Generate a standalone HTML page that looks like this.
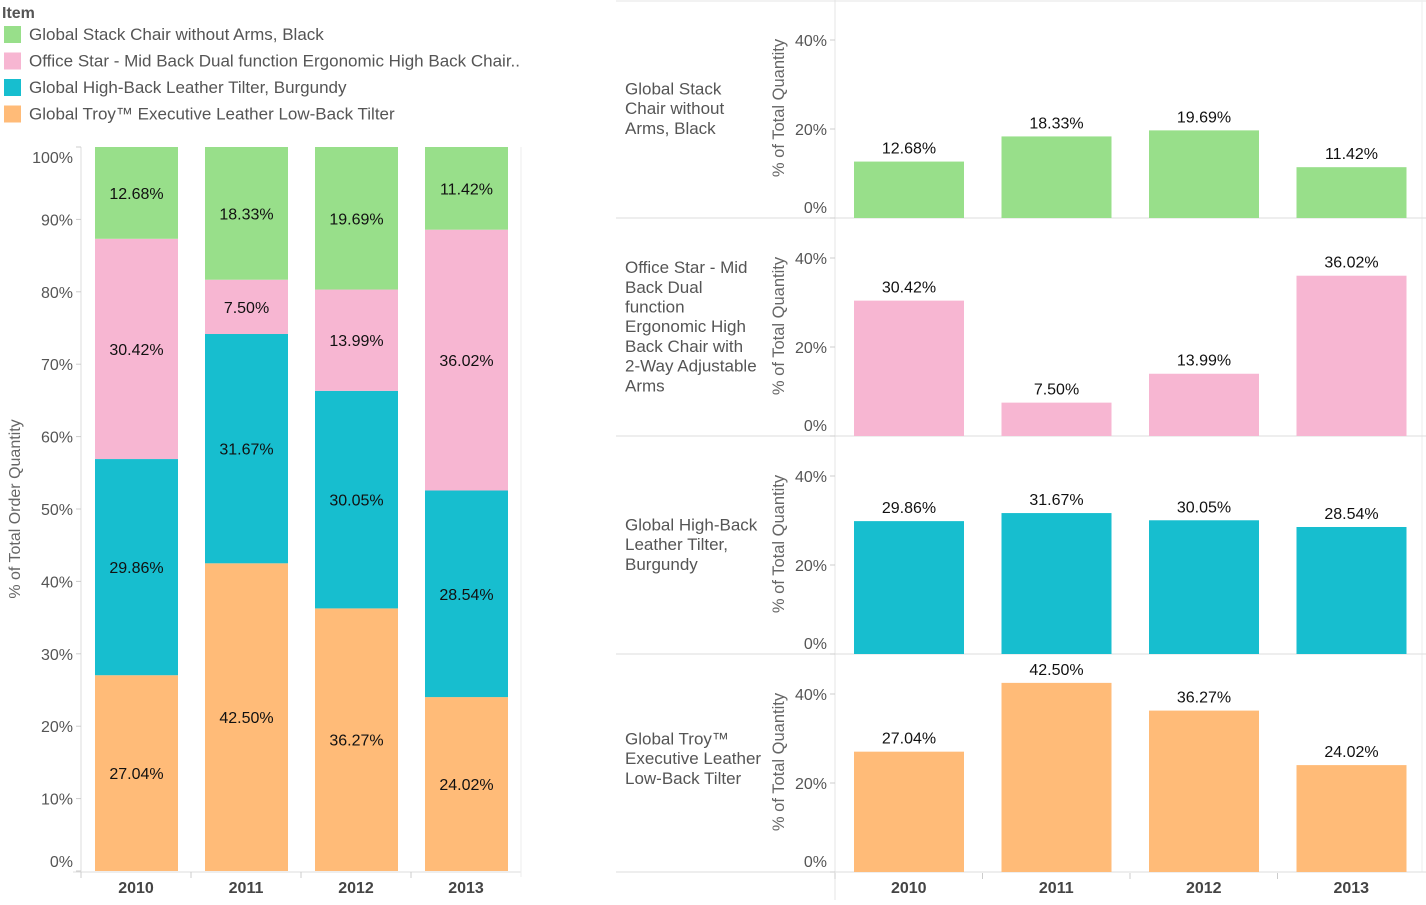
<!DOCTYPE html>
<html><head><meta charset="utf-8">
<style>
body{margin:0;background:#fff;font-family:"Liberation Sans",Arial,sans-serif;}
svg text{font-family:"Liberation Sans",Arial,sans-serif;}
</style></head>
<body>
<svg id="c" width="1426" height="900" xmlns="http://www.w3.org/2000/svg"></svg>
<script>
const years = ["2010","2011","2012","2013"];
const items = ["Global Stack Chair without Arms, Black","Office Star - Mid Back Dual function Ergonomic High Back Chair..","Global High-Back Leather Tilter, Burgundy","Global Troy\u2122 Executive Leather Low-Back Tilter"];
const rowLabels = [["Global Stack","Chair without","Arms, Black"],["Office Star - Mid","Back Dual","function","Ergonomic High","Back Chair with","2-Way Adjustable","Arms"],["Global High-Back","Leather Tilter,","Burgundy"],["Global Troy\u2122","Executive Leather","Low-Back Tilter"]];
const stackChair = [12.68,18.33,19.69,11.42];
const officeStar = [30.42,7.50,13.99,36.02];
const highBack = [29.86,31.67,30.05,28.54];
const troy = [27.04,42.50,36.27,24.02];
const leftTicks = [0,10,20,30,40,50,60,70,80,90,100];
const rightTicks = [0,20,40];
const colors = ["#98df8a","#f7b6d2","#17becf","#ffbb78"];
const series = [stackChair,officeStar,highBack,troy];

const svg=document.getElementById('c');
const NS="http://www.w3.org/2000/svg";
function mk(tag,attrs,name,txt){const e=document.createElementNS(NS,tag);for(const k in attrs)e.setAttribute(k,attrs[k]);


if(txt!==undefined)e.textContent=txt;svg.appendChild(e);return e;}

// legend
mk('text',{x:2,y:18,'font-size':16,'font-weight':'bold',fill:'#555'},'legend-title','Item');
items.forEach((it,i)=>{const y=26+i*26.5;
mk('rect',{x:4,y:y,width:17,height:17,fill:colors[i]},'legend-swatch');
mk('text',{x:29,y:y+14,'font-size':17,fill:'#555'},'legend-entry',it);});

// left chart
const L={x0:81,x1:521,y0:871,y1:147};
const ly=v=>L.y0-(L.y0-L.y1)*v/100;
const lband=(L.x1-L.x0)/years.length;
mk('line',{x1:L.x0,y1:L.y1,x2:L.x0,y2:L.y0+6,stroke:'#ddd'},'y-axis-line');
mk('line',{x1:L.x0-8,y1:L.y0+1,x2:L.x1,y2:L.y0+1,stroke:'#ddd'},'x-axis-line');
mk('line',{x1:L.x1,y1:L.y1,x2:L.x1,y2:L.y0+6,stroke:'#eee'},'right-border');
leftTicks.forEach(t=>{const y=ly(t);
mk('line',{x1:L.x0-5,y1:y,x2:L.x0,y2:y,stroke:'#ccc'},'y-tick');
let ty=y+6; if(t===100)ty=y+16; if(t===0)ty=y-4;
mk('text',{x:73,y:ty,'font-size':16,fill:'#555','text-anchor':'end'},'y-tick-label',t+'%');});
mk('text',{x:20,y:509,'font-size':16,fill:'#666','text-anchor':'middle',transform:'rotate(-90 20 509)'},'y-axis-title','% of Total Order Quantity');
years.forEach((yr,j)=>{const bx=L.x0+j*lband;
mk('line',{x1:bx,y1:L.y0+1,x2:bx,y2:L.y0+7,stroke:'#ccc'},'x-tick');
mk('text',{x:bx+lband/2,y:893,'font-size':16,'font-weight':'bold',fill:'#444','text-anchor':'middle'},'x-tick-label',yr);
let cum=0;
for(let s=series.length-1;s>=0;s--){const v=series[s][j];
const yTop=ly(cum+v),yBot=ly(cum);
mk('rect',{x:bx+14,y:yTop,width:83,height:yBot-yTop,fill:colors[s]},'stack-segment-'+yr);
mk('text',{x:bx+14+41.5,y:(yTop+yBot)/2+6,'font-size':16,fill:'#111','text-anchor':'middle'},'segment-label',v.toFixed(2)+'%');
cum+=v;}});

// right small multiples
const R={x0:835,x1:1426};
const rband=147.5;
const bases=[218,436,654,872];
const scale=4.45;
mk('line',{x1:616,y1:1,x2:1426,y2:1,stroke:'#e4e4e4'},'top-border');
mk('line',{x1:R.x0,y1:0,x2:R.x0,y2:900,stroke:'#e4e4e4'},'panel-divider');
mk('line',{x1:1422,y1:0,x2:1422,y2:872,stroke:'#eee'},'right-border');
bases.forEach((b,p)=>{
mk('line',{x1:616,y1:b,x2:1426,y2:b,stroke:'#ddd'},'panel-baseline');
const lab=rowLabels[p];const h=lab.length*19.7;const mid=b-109-(p===3?4:0);
lab.forEach((ln,k)=>mk('text',{x:625,y:mid-h/2+15+k*19.7,'font-size':17,fill:'#555'},'row-header',ln));
rightTicks.forEach(t=>{const y=b-t*scale;
mk('line',{x1:R.x0-5,y1:y,x2:R.x0,y2:y,stroke:'#ccc'},'y-tick');
mk('text',{x:827,y:t===0?y-5:y+6,'font-size':16,fill:'#555','text-anchor':'end'},'y-tick-label',t+'%');});
mk('text',{x:784,y:b-110,'font-size':16.5,fill:'#666','text-anchor':'middle',transform:'rotate(-90 784 '+(b-110)+')'},'y-axis-title','% of Total Quantity');
series[p].forEach((v,j)=>{const bx=R.x0+j*rband;const y=b-v*scale;
mk('rect',{x:bx+19,y:y,width:110,height:b-y,fill:colors[p]},'bar-'+years[j]);
mk('text',{x:bx+74,y:y-8,'font-size':16,fill:'#111','text-anchor':'middle'},'bar-label',v.toFixed(2)+'%');});
});
years.forEach((yr,j)=>{const bx=R.x0+j*rband;
mk('line',{x1:bx,y1:873,x2:bx,y2:879,stroke:'#ccc'},'x-tick');
mk('text',{x:bx+rband/2,y:893,'font-size':16,'font-weight':'bold',fill:'#444','text-anchor':'middle'},'x-tick-label',yr);});
</script>
</body></html>
